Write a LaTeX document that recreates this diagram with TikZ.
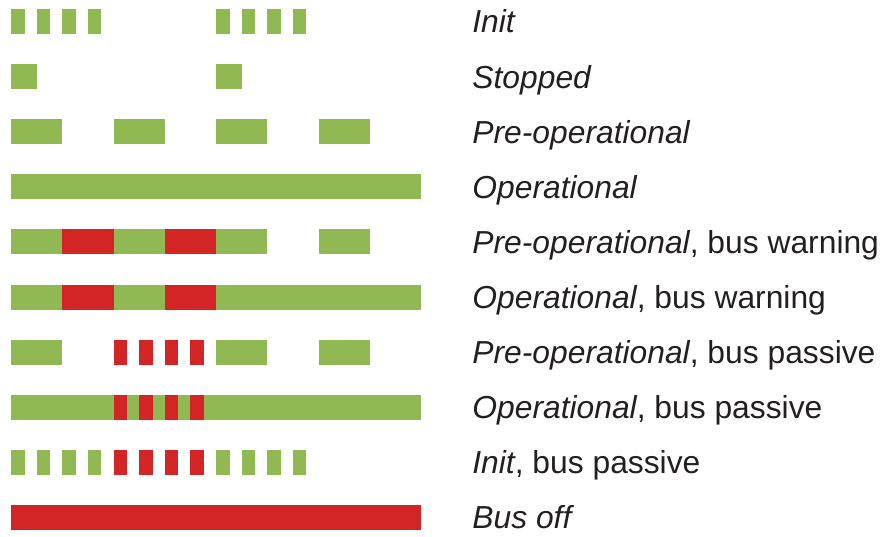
\documentclass[tikz,border=0pt]{standalone}
\usepackage{fontspec}
\setmainfont{Liberation Sans}
\usepackage{tikz}
\definecolor{LedGreen}{RGB}{144,185,84}
\definecolor{LedRed}{RGB}{212,37,38}
\definecolor{TextBlack}{RGB}{35,31,32}
\def\sw{25.625} % slot width
\def\bw{13.5}   % blink width
\def\bh{25}     % bar height
\def\rh{55.1}   % row pitch
\tikzset{
  ledG/.style={fill=LedGreen},
  ledR/.style={fill=LedRed},
  slab/.style={anchor=base west, inner sep=0pt, text=TextBlack,
    font=\fontsize{15.9}{19}\selectfont},
}
\newcommand\ledon[4]{% row, from slot, to slot, style
  \path[#4] ({11+(#2)*\sw},{9+(#1)*\rh}) rectangle ({11+(#3)*\sw},{9+(#1)*\rh+\bh});}
\newcommand\ledblink[3]{% row, slot, style
  \path[#3] ({11+(#2)*\sw},{9+(#1)*\rh}) rectangle ++(\bw,\bh);}

\begin{document}
\begin{tikzpicture}[x=0.5pt, y=-0.5pt]
  \useasboundingbox (0,0) rectangle (882,536);
  % Init
  \foreach \k in {0,1,2,3,8,9,10,11} {\ledblink{0}{\k}{ledG}}
  % Stopped
  \foreach \k in {0,8} {\ledon{1}{\k}{\k+1}{ledG}}
  % Pre-operational
  \foreach \k in {0,4,8,12} {\ledon{2}{\k}{\k+2}{ledG}}
  % Operational
  \ledon{3}{0}{16}{ledG}
  % bus warning
  \foreach \k in {0,4,8,12} {\ledon{4}{\k}{\k+2}{ledG}}
  \foreach \k in {2,6} {\ledon{4}{\k}{\k+2}{ledR}}
  \ledon{5}{0}{16}{ledG}
  \foreach \k in {2,6} {\ledon{5}{\k}{\k+2}{ledR}}
  % bus passive
  \foreach \k in {0,8,12} {\ledon{6}{\k}{\k+2}{ledG}}
  \foreach \k in {4,...,7} {\ledblink{6}{\k}{ledR}}
  \ledon{7}{0}{16}{ledG}
  \foreach \k in {4,...,7} {\ledblink{7}{\k}{ledR}}
  \foreach \k in {0,1,2,3,8,9,10,11} {\ledblink{8}{\k}{ledG}}
  \foreach \k in {4,...,7} {\ledblink{8}{\k}{ledR}}
  % Bus off
  \ledon{9}{0}{16}{ledR}
  % labels
  \foreach \t [count=\i from 0] in {{\textit{Init}}, {\textit{Stopped}},
      {\textit{Pre-operational}}, {\textit{Operational}},
      {\textit{Pre-operational}, bus warning}, {\textit{Operational}, bus warning},
      {\textit{Pre-operational}, bus passive}, {\textit{Operational}, bus passive},
      {\textit{Init}, bus passive}, {\textit{Bus off}}}
    \node[slab] (lab\i) at (472,{9+\i*\rh+\bh/2+11.4}) {\t};
\end{tikzpicture}
\end{document}
